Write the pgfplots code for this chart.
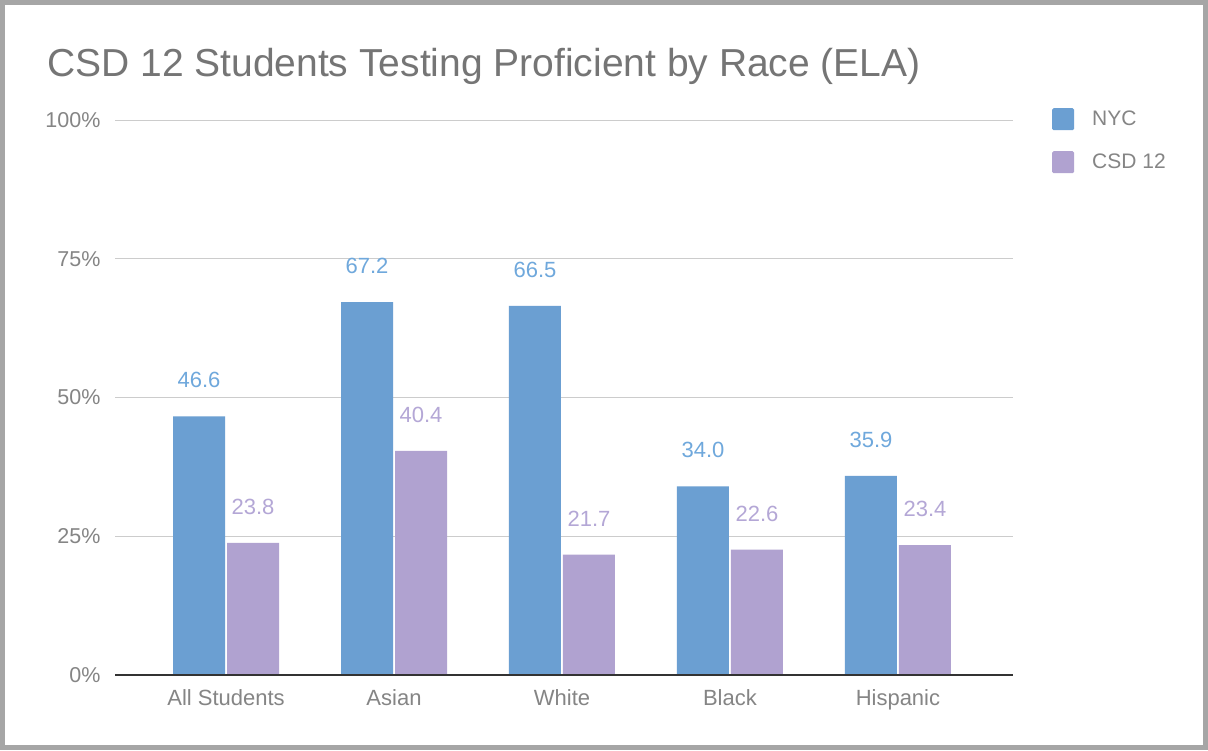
\documentclass[border=0pt]{standalone}
\usepackage{pgfplots}
\pgfplotsset{compat=1.18}
\usepackage{fontspec}
\setmainfont{Liberation Sans}
\definecolor{nyc}{HTML}{6B9FD2}
\definecolor{csd}{HTML}{B0A2D0}
\definecolor{nyclab}{HTML}{6FA8DC}
\definecolor{csdlab}{HTML}{B4A7D6}
\definecolor{txt}{HTML}{757575}
\definecolor{ticktxt}{HTML}{858585}
\definecolor{gridc}{HTML}{CCCCCC}
\definecolor{framec}{HTML}{A6A6A6}
\begin{document}
\begin{tikzpicture}[x=1pt,y=1pt]
\useasboundingbox (0,0) rectangle (1208,750);
\fill[white] (0,0) rectangle (1208,750);
\draw[framec, line width=5pt] (2.5,2.5) rectangle (1205.5,747.5);
\node[anchor=base west, inner sep=0pt, font=\fontsize{39}{39}\selectfont, text=txt] at (47,673) {CSD 12 Students Testing Proficient by Race (ELA)};
\begin{axis}[
  at={(115pt,75pt)}, anchor=south west,
  scale only axis, width=898pt, height=555pt,
  xmin=-0.661, xmax=4.685, ymin=0, ymax=100,
  /pgf/number format/assume math mode=true,
  xtick={0,1,2,3,4},
  xticklabels={All Students,Asian,White,Black,Hispanic},
  ytick={0,25,50,75,100},
  yticklabels={0\%,25\%,50\%,75\%,100\%},
  major tick length=0pt,
  axis line style={draw=none},
  ymajorgrids, grid style={gridc, line width=0.9pt},
  xticklabel style={font=\fontsize{22}{22}\selectfont, text=ticktxt, yshift=-11pt},
  yticklabel style={font=\fontsize{21.5}{21.5}\selectfont, text=ticktxt, xshift=-11pt},
  nodes near coords={\pgfmathprintnumber[fixed,fixed zerofill,precision=1,assume math mode=true]{\pgfplotspointmeta}},
  every node near coord/.append style={anchor=center, yshift=36pt, font=\fontsize{22}{22}\selectfont},
  legend style={at={(axis description cs:1.0434,1.0216)}, anchor=north west, draw=none, fill=none,
    font=\fontsize{21}{21}\selectfont, text=ticktxt, row sep=21pt, inner sep=0pt,
    /tikz/every even column/.append style={column sep=0pt}},
  legend cell align=left,
  legend image code/.code={\fill[#1, rounded corners=1.5pt] (0pt,-11pt) rectangle (22pt,11pt);},
]
\addplot[ybar, bar width=52pt, bar shift=-27pt, fill=nyc, draw=none,
  every node near coord/.append style={text=nyclab, xshift=-27pt}] coordinates {
  (0,46.6) (1,67.2) (2,66.5) (3,34.0) (4,35.9)};
\addlegendentry{\hspace{16pt}NYC}
\addplot[ybar, bar width=52pt, bar shift=27pt, fill=csd, draw=none,
  every node near coord/.append style={text=csdlab, xshift=27pt}] coordinates {
  (0,23.8) (1,40.4) (2,21.7) (3,22.6) (4,23.4)};
\addlegendentry{\hspace{16pt}CSD 12}
\draw[black!80, line width=1.5pt] (axis cs:-0.661,0) -- (axis cs:4.685,0);
\end{axis}
\end{tikzpicture}
\end{document}
